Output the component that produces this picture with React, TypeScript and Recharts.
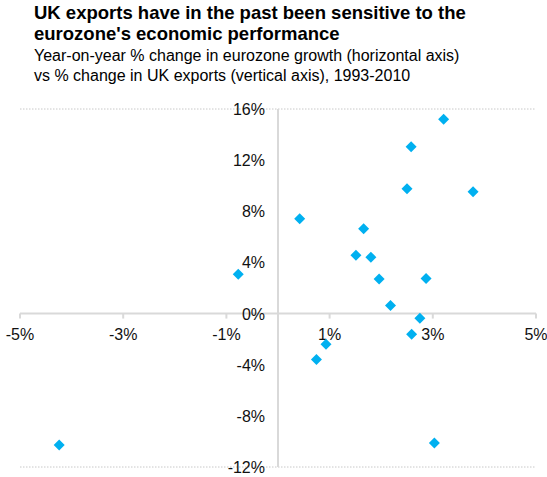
import React from 'react';
import {
  ScatterChart,
  Scatter,
  XAxis,
  YAxis,
  CartesianGrid,
  ReferenceLine,
  ReferenceDot,
} from 'recharts';

// eurozone growth (x) vs UK exports (y), % yoy, 1993-2010
const euroGrowth = [3.21, 2.58, 2.5, 3.78, 0.42, 1.66, -0.77, 1.51, 1.8, 1.96, 2.87, 2.18, 2.75, 2.59, 0.93, 0.745, -4.24, 3.03];
const ukExports = [15.19, 13.05, 9.76, 9.53, 7.41, 6.63, 3.08, 4.57, 4.41, 2.71, 2.74, 0.63, -0.37, -1.62, -2.4, -3.6, -10.28, -10.12];

const xTicks = [-5, -3, -1, 1, 3, 5];
const yTicks = [-12, -8, -4, 0, 4, 8, 12, 16];

const points = euroGrowth.map((x, i) => ({ x, y: ukExports[i] }));

const FONT = '"Liberation Sans", Arial, sans-serif';
const AXIS_COLOR = '#d9d9d9';
const MARKER_COLOR = '#00b0f0';

const Diamond = (props: any) => {
  const { cx, cy } = props;
  const r = 5.5;
  return (
    <polygon
      points={`${cx},${cy - r} ${cx + r},${cy} ${cx},${cy + r} ${cx - r},${cy}`}
      fill={MARKER_COLOR}
    />
  );
};

const XTickMark = (value: number) => (props: any) => {
  const { cx, cy } = props;
  return (
    <g>
      <line x1={cx} y1={cy} x2={cx} y2={cy + 5} stroke={AXIS_COLOR} strokeWidth={2} />
      <text x={cx} y={cy + 26} textAnchor="middle" fontFamily={FONT} fontSize={16} fill="#111">
        {`${value}%`}
      </text>
    </g>
  );
};

const YTickLabel = (value: number) => (props: any) => {
  const { cx, cy } = props;
  return (
    <text x={cx - 13} y={cy + 6} textAnchor="end" fontFamily={FONT} fontSize={16} fill="#111">
      {`${value}%`}
    </text>
  );
};

const App: React.FC = () => {
  return (
    <div style={{ position: 'absolute', left: 0, top: 0, width: 547, height: 477, background: '#fff' }}>
      <div style={{ position: 'absolute', left: 34, top: 3, fontFamily: FONT, color: '#000' }}>
        <div style={{ fontSize: 18.5, fontWeight: 'bold', lineHeight: '20.7px', whiteSpace: 'nowrap' }}>
          UK exports have in the past been sensitive to the
          <br />
          eurozone's economic performance
        </div>
        <div style={{ fontSize: 16, lineHeight: '20px', marginTop: 1.6, whiteSpace: 'nowrap' }}>
          Year-on-year % change in eurozone growth (horizontal axis)
          <br />
          vs % change in UK exports (vertical axis), 1993-2010
        </div>
      </div>
      <ScatterChart
        width={547}
        height={477}
        margin={{ top: 109, right: 11, bottom: 10, left: 20 }}
        style={{ position: 'absolute', left: 0, top: 0 }}
      >
        <CartesianGrid
          horizontal
          vertical={false}
          stroke="#c8c8c8"
          strokeDasharray="1.5 1.5"
        />
        <XAxis
          type="number"
          dataKey="x"
          domain={[-5, 5]}
          ticks={xTicks}
          height={0}
          axisLine={false}
          tickLine={false}
          tick={false}
          allowDataOverflow
        />
        <YAxis
          type="number"
          dataKey="y"
          domain={[-12, 16]}
          ticks={yTicks}
          width={0}
          axisLine={false}
          tickLine={false}
          tick={false}
          allowDataOverflow
        />
        <ReferenceLine x={0} stroke={AXIS_COLOR} strokeWidth={2} />
        <ReferenceLine y={0} stroke={AXIS_COLOR} strokeWidth={2} />
        {xTicks.map(t => (
          <ReferenceDot key={`xt-${t}`} x={t} y={0} r={0} shape={XTickMark(t)} />
        ))}
        {yTicks.map(t => (
          <ReferenceDot key={`yt-${t}`} x={0} y={t} r={0} shape={YTickLabel(t)} />
        ))}
        <Scatter data={points} shape={Diamond} isAnimationActive={false} />
      </ScatterChart>
    </div>
  );
};

export default App;
